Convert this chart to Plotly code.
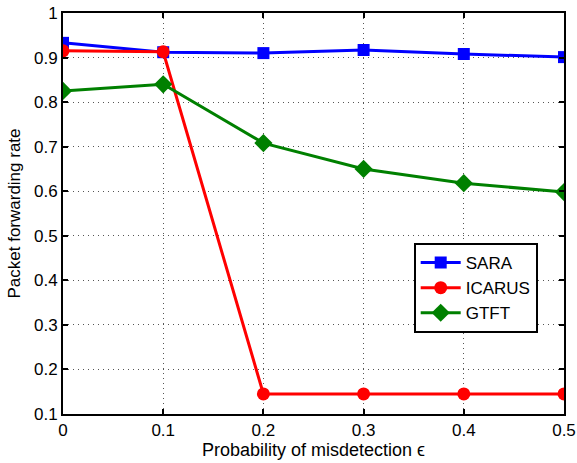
import plotly.graph_objects as go

eps = [0, 0.1, 0.2, 0.3, 0.4, 0.5]
sara = [0.933, 0.912, 0.910, 0.917, 0.908, 0.901]
icarus = [0.915, 0.913, 0.145, 0.145, 0.145, 0.145]
gtft = [0.825, 0.840, 0.708, 0.650, 0.618, 0.598]

x_ticks = [0, 0.1, 0.2, 0.3, 0.4, 0.5]
x_labels = ["0", "0.1", "0.2", "0.3", "0.4", "0.5"]
y_ticks = [0.1, 0.2, 0.3, 0.4, 0.5, 0.6, 0.7, 0.8, 0.9, 1.0]
y_labels = ["0.1", "0.2", "0.3", "0.4", "0.5", "0.6", "0.7", "0.8", "0.9", "1"]

FONT = "Liberation Sans"

fig = go.Figure()
fig.add_trace(go.Scatter(x=eps, y=sara, name="SARA", mode="lines+markers",
                         line=dict(color="#0000ff", width=3),
                         marker=dict(symbol="square", size=12, color="#0000ff")))
fig.add_trace(go.Scatter(x=eps, y=icarus, name="ICARUS", mode="lines+markers",
                         line=dict(color="#ff0000", width=3),
                         marker=dict(symbol="circle", size=13, color="#ff0000")))
fig.add_trace(go.Scatter(x=eps, y=gtft, name="GTFT", mode="lines+markers",
                         line=dict(color="#008000", width=3),
                         marker=dict(symbol="diamond", size=14, color="#008000")))

axis_common = dict(
    showline=True, linecolor="black", linewidth=2, mirror="allticks",
    ticks="inside", ticklen=5, tickwidth=2, tickcolor="black",
    showgrid=True, gridcolor="#555555", gridwidth=1, griddash="1px,4px",
    zeroline=False, automargin=False,
    tickfont=dict(family=FONT, size=17, color="black"),
)

fig.update_layout(
    width=577, height=463,
    margin=dict(l=63, r=13, t=13, b=49, autoexpand=False),
    paper_bgcolor="white", plot_bgcolor="white",
    showlegend=True,
    legend=dict(x=0.70, y=0.4264, xanchor="left", yanchor="top",
                bordercolor="black", borderwidth=2, bgcolor="white",
                font=dict(family=FONT, size=17, color="black"),
                itemwidth=40, tracegroupgap=0,
                entrywidth=112, entrywidthmode="pixels"),
)
fig.update_xaxes(range=[0, 0.5], tickvals=x_ticks, ticktext=x_labels,
                 title=dict(text="Probability of misdetection \u03f5", standoff=2,
                            font=dict(family=FONT, size=18, color="black")),
                 **axis_common)
fig.update_yaxes(range=[0.1, 1.0], tickvals=y_ticks, ticktext=y_labels,
                 title=dict(text="Packet forwarding rate", standoff=9,
                            font=dict(family=FONT, size=17, color="black")),
                 **axis_common)

fig.write_html("out.html", config={"displayModeBar": False})

with open("out.html", "r", encoding="utf-8") as f:
    html = f.read()
html = html.replace("<head>", "<head><style>html,body{margin:0;padding:0;overflow:hidden;}</style>", 1)
with open("out.html", "w", encoding="utf-8") as f:
    f.write(html)
